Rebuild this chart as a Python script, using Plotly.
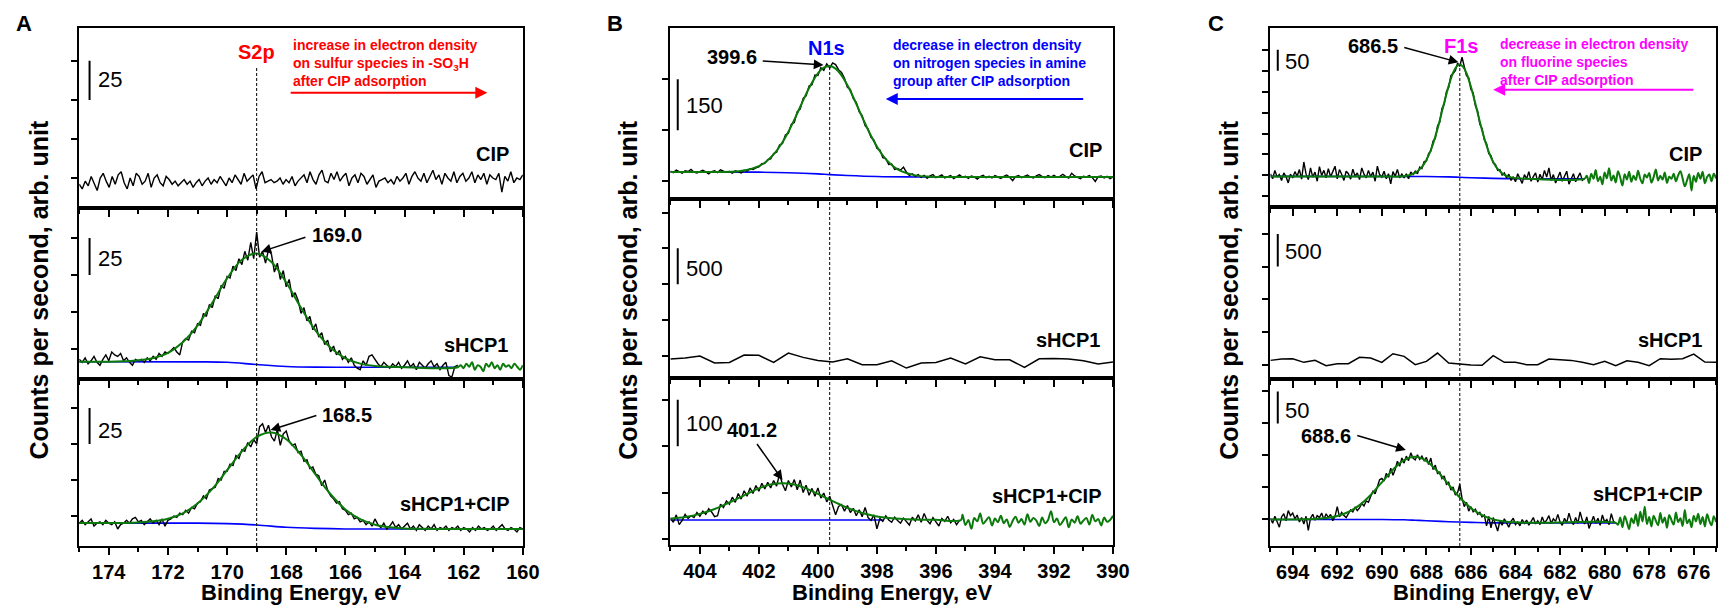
import numpy as np
import plotly.graph_objects as go

W, H = 1734, 610
FONT = "Liberation Sans, Arial, sans-serif"
GREEN = "#0b7a0b"
BLUE = "#0000ff"
BLACK_W = 1.4

# ---------------- Panel A : S2p (x 175 -> 160 eV) ----------------
A_cip = [-4, -7, -2, -5, 1, -3, -8, 0, 3, -2, -6, 1, -4, 2, 4, -3, -7, 0, -5, 3, 1, -4, -2, 3, -6, 0, 2, -3,
         -5, 1, -1, -4, -2, -5, -3, -1, -4, -2, -6, -3, -1, -5, -2, 0, -4, -1, -3, 1, -2, -5, 0, -3, 2, -1,
         -4, 3, -2, 0, 2, -7, 1, 4, -3, -2, -1, -3, -2, 0, -4, -1, -3, 1, -5, -2, 0, 2, -3, 4, -1, -4, 2, 5,
         -2, -3, 3, -1, 4, -2, 1, 3, -5, 0, 2, -3, 3, 1, -4, -1, 2, -6, -2, -1, 0, -3, -1, -4, 1, -2, 0, 3,
         -4, 1, 4, 0, -2, 3, -3, 1, 5, -1, 2, -4, 3, 0, -2, 4, -3, 1, 3, -2, 0, 4, -3, 2, -1, 3, -4, 2, 0,
         -1, 3, -9, 1, -2, 4, -3, 0, -1, 2]
A_shcp1 = [-7, -9, -6, -10, -8, -5, -9, -11, -7, -4, -8, -2, -4, -5, -3, -8, -6, -9, -11, -7,
           -8, -7, -9, -6, -8, -5, -7, -3, -5, -2, -3, -1, 1, -2, -4, 5, 7, 6, 12, 11,
           17, 16, 24, 22, 30, 28, 36, 34, 43, 41, 49, 48, 56, 53, 61, 57, 66, 60, 72, 61,
           79, 62, 66, 58, 67, 64, 52, 58, 47, 53, 42, 47, 35, 38, 33, 24, 28, 19, 22, 13,
           17, 8, 11, 3, 6, -2, 2, -4, -1, -7, -5, -9, -6, -11, -13, -14, -8, -11, -5, -4,
           -7, -10, -12, -9, -11, -13, -10, -12, -9, -13, -11, -8, -12, -10, -14, -9, -11, -13, -10, -8,
           -12, -10, -14, -11, -9, -18, -19, -12, -11]
A_shcp1_tail = [-11, -13, -10, -12, -9, -14, -11, -12, -15, -10, -12, -9, -13, -11, -14, -10, -12, -11,
                -13, -10, -12, -14, -11]
A_shcp1_fit_x = [175, 174, 173.5, 173, 172.5, 172, 171.5, 171, 170.5, 170, 169.5, 169, 168.5, 168, 167.5,
                 167, 166.5, 166, 165.5, 165, 164.5, 164, 162.2]
A_shcp1_fit_y = [-8.6, -8.6, -8.3, -7.7, -6.1, -2.6, 4.6, 15.8, 31.2, 47.7, 60.3, 64.5, 58.8, 44.9, 27.8,
                 12.2, 0.8, -6.3, -9.9, -11.5, -12.1, -12.4, -12.4]
A_shcp1_bg_x = [175, 171, 170, 169, 168, 167, 166, 162.2]
A_shcp1_bg_y = [-8.6, -8.7, -9.0, -10.5, -11.8, -12.3, -12.4, -12.4]
A_mix = [-5, -3, -6, -4, -2, -7, -5, -4, -6, -3, -5, -6, -4, -9, -6, -5, -3, -5, -2, -1,
         -4, -3, -6, -4, -2, -5, -3, -6, -2, -7, -3, -2, 0, -1, 2, 1, 4, 2, 6, 5,
         9, 10, 14, 12, 18, 19, 20, 26, 25, 31, 31, 36, 35, 42, 40, 46, 45, 51, 48, 53,
         50, 62, 64, 58, 63, 55, 52, 60, 49, 57, 59, 52, 49, 50, 44, 45, 38, 39, 33, 34,
         29, 28, 21, 25, 18, 14, 12, 9, 10, 5, 4, 1, 2, -2, -1, -4, -3, -6, -4, -7,
         -2, -6, -8, -5, -9, -7, -4, -8, -6, -9, -7, -5, -9, -7, -10, -6, -8, -10, -7, -9,
         -6, -10, -8, -9, -7, -10, -8, -9, -7, -10, -8, -9, -11, -8, -10, -7, -9, -8, -10, -9,
         -7, -10, -8, -6, -9, -10, -8, -9, -11, -8, -9]
A_mix_fit_x = [175, 174, 173.5, 173, 172.5, 172, 171.5, 171, 170.5, 170, 169.5, 169, 168.5, 168, 167.5,
               167, 166.5, 166, 165.5, 165, 164.5, 164, 163.5, 160]
A_mix_fit_y = [-4.9, -4.9, -4.8, -4.5, -3.7, -1.9, 1.9, 8.7, 18.8, 31.8, 44.9, 54.9, 58.0, 53.3, 42.4,
               28.5, 15.1, 4.6, -2.2, -6.0, -7.8, -8.6, -8.9, -9.0]
A_mix_bg_x = [175, 171, 170, 169, 168, 167, 166, 160]
A_mix_bg_y = [-4.9, -4.9, -5.3, -6.2, -7.8, -8.6, -9.0, -9.0]

# ---------------- Panel B : N1s (x 405 -> 390 eV) ----------------
B_cip = [30, 26, 33, 28, 24, 31, 29, 35, 27, 25, 30, 33, 28, 22, 29, 31, 26, 34, 30, 27,
         29, 24, 31, 27, 25, 33, 30, 37, 35, 40, 43, 52, 53, 64, 66, 82, 86, 107, 111, 136,
         141, 168, 173, 205, 212, 244, 251, 280, 284, 312, 311, 334, 326, 345, 333, 348, 343, 328, 320, 303,
         276, 270, 243, 232, 204, 193, 164, 154, 129, 121, 97, 92, 70, 67, 50, 51, 35, 38, 33, 42,
         27, 18, 22, 15, 20, 12, 18, 9, 16, 20, 11, 15, 19, 10, 14, 17, 8, 13, 19, 12,
         15, 9, 16, 13, 7, 14, 18, 11, 15, 10, 17, 13, 9, 15, 19, 12, 2, 14, 17, 11,
         15, 19, 13, 10, 16, 20, 14, 11, 17, 13, 18, 12, 15, 21, 14, 10, 24, 16, 12, 8,
         15, 13, 17, 11, 0, 14, 16, 10, 15, 8, 13]
B_cip_fit_x = [405, 403.5, 403, 402.5, 402, 401.75, 401.5, 401.25, 401, 400.75, 400.5, 400.25, 400, 399.8,
               399.6, 399.4, 399.2, 398.95, 398.7, 398.45, 398.2, 397.95, 397.7, 397.45, 397.2, 396.7,
               396.2, 395.5, 390]
B_cip_fit_y = [27.5, 27.5, 28.3, 32, 45, 58.6, 79.2, 108.3, 146, 190.2, 237.8, 282.3, 317.4, 333.7,
               338.6, 331.2, 311.4, 274.3, 228, 179.3, 134, 95.3, 65.5, 44.7, 30.9, 17.8, 14, 12.9, 12.9]
B_cip_bg_x = [405, 402, 401, 400, 399.6, 399, 398, 397, 396, 390]
B_cip_bg_y = [27.5, 27.2, 25.5, 22, 20, 17.5, 14.5, 13.2, 12.9, 12.9]
B_shcp1_x = [405, 404.5, 404, 403.5, 403, 402.5, 402, 401.5, 401, 400.5, 400, 399.5, 399, 398.5, 398,
             397.5, 397, 396.5, 396, 395.5, 395, 394.5, 394, 393.5, 393, 392.5, 392, 391.5, 391, 390.5, 390]
B_shcp1_y = [-47, -33, -5, -102, -93, 10, 5, -93, 37, -23, -65, -88, -42, -126, -126, -70, -172, -102,
             -93, -33, -116, -14, -56, -56, -163, -42, -37, -47, -70, -116, -88]
B_mix = [45, 36, 52, 31, 40, 53, 44, 50, 46, 57, 49, 60, 53, 65, 58, 48, 50, 75, 68, 82,
         75, 90, 79, 98, 86, 104, 92, 110, 98, 115, 103, 120, 108, 122, 110, 126, 114, 140, 118, 104,
         126, 112, 128, 106, 127, 100, 116, 94, 109, 92, 110, 88, 99, 80, 92, 71, 52, 70, 74, 60,
         72, 57, 66, 50, 63, 48, 68, 46, 40, 52, 22, 44, 38, 50, 41, 36, 47, 40, 34, 45,
         38, 30, 47, 39, 52, 36, 55, 40, 33, 46, 37, 28, 44, 38, 49, 35, 42, 31, 40]
B_mix_tail = [52, 30, 41, 22, 45, 38, 55, 33, 40, 47, 29, 44, 36, 50, 34, 42, 26, 39, 48, 35, 43, 31, 53,
              37, 45, 40, 28, 46, 34, 41, 60, 36, 44, 30, 38, 47, 25, 42, 35, 49, 33, 40, 45, 31, 52, 38,
              43, 29, 46, 37, 41, 50]
B_mix_fit_x = [405, 404.5, 404, 403.5, 403, 402.5, 402, 401.6, 401.2, 400.8, 400.4, 400, 399.5, 399,
               398.5, 398, 397.5, 397, 396.5, 396, 395.15]
B_mix_fit_y = [43.9, 47.5, 54.1, 64.5, 78.6, 94, 109, 117.3, 120, 117.3, 109, 97, 81.7, 67, 55.8, 48.6,
               44.4, 42.6, 41.5, 41.2, 41]
B_mix_bg_x = [405, 397.8]
B_mix_bg_y = [41, 41]

# ---------------- Panel C : F1s (x 695 -> 675 eV) ----------------
C_cip = [4, -8, 12, -4, 2, -12, 6, -3, -18, 3, -6, 9, -2, 14, -9, 32, 3, -10, 18, -4,
         8, -14, 21, 0, 12, -6, 16, -3, 9, 22, -8, 14, 2, -12, 10, 4, -9, 15, -2, 6,
         -10, 18, 3, -6, 12, -3, 8, -14, 22, 2, -4, 10, -8, 4, -20, 9, -2, 14, -6, 3,
         -6, 4, -8, 8, 2, 10, 4, 20, 16, 33, 34, 52, 58, 82, 88, 118, 127, 160, 170, 200,
         210, 238, 243, 250, 268, 260, 282, 262, 238, 233, 205, 197, 166, 154, 122, 112, 85, 76, 52, 47,
         30, 26, 12, 14, 1, 6, -6, 3, -12, -3, -15, 4, -9, -19, 2, -8, 9, -14, -3, 6,
         -16, 3, -10, 12, -4, 18, -12, 2, -18, -6, 8, -14, -3, 10, -21, -8, 4, -15, -4, 6,
         -12, -8]
C_cip_tail = [-1, -18, 4, -8, 13, -14, -3, -21, 7, -7, 17, -12, 0, -17, 10, -5, -24, 3, -10, 9,
              -15, -1, -11, 11, -8, -19, 2, -5, 6, -17, -4, 14, -12, -1, -10, 7, -18, -3, -8, 4,
              -14, 0, 10, -7, -26, -12, 3, -36, -1, -15, 6, -8, 9, -19, -4, 2, -14, 4, -7]
C_cip_fit_x = [695, 690, 689, 688.5, 688.2, 688.0, 687.8, 687.6, 687.4, 687.2, 687.0, 686.8, 686.65,
               686.5, 686.35, 686.2, 686.0, 685.8, 685.6, 685.4, 685.2, 685.0, 684.8, 684.5, 684.2,
               683.5, 680.9]
C_cip_fit_y = [-2.4, -2.4, -1.9, 6.3, 20.2, 36.7, 60.6, 92.6, 131.3, 173.5, 213.6, 245.2, 259.7, 264.5,
               259.1, 243.8, 211.6, 170.9, 128.1, 88.8, 56.4, 32.2, 15.5, 1.2, -4.7, -7.9, -7.9]
C_cip_bg_x = [695, 688, 687, 686.5, 686, 685, 684, 680.9]
C_cip_bg_y = [-2.4, -2.6, -3.5, -4.5, -5.5, -7.0, -7.9, -7.9]
C_shcp1_x = [695, 694.5, 694, 693.5, 693, 692.5, 692, 691.5, 691, 690.5, 690, 689.5, 689, 688.5, 688,
             687.5, 687, 686.5, 686, 685.5, 685, 684.5, 684, 683.5, 683, 682.5, 682, 681.5, 681, 680.5,
             680, 679.5, 679, 678.5, 678, 677.5, 677, 676.5, 676, 675.5, 675]
C_shcp1_y = [66, 87, 92, 36, 66, -15, 15, 15, 112, 102, 36, 168, 127, 0, 51, 178, 26, 10, -5, -10, 138,
             36, 36, 0, 0, 87, 76, 66, 36, 0, 51, -15, 61, 36, -15, 92, 82, 92, 163, 41, 36]
C_mix = [2, -6, 5, -3, -12, 4, 9, -2, 14, 6, 10, 1, 7, -4, 3, -7, 5, -17, 2, 8,
         -1, 6, 3, 10, 0, 9, 3, 8, -2, 5, 20, 4, 11, 6, 3, 9, 15, 12, 19, 14,
         18, 25, 21, 29, 27, 36, 44, 40, 52, 62, 64, 60, 72, 66, 80, 69, 78, 91, 83, 96,
         88, 99, 92, 104, 96, 93, 101, 94, 99, 92, 97, 86, 96, 78, 85, 72, 74, 64, 68, 55,
         58, 46, 51, 38, 42, 55, 33, 20, 27, 13, 20, 12, 16, 8, 11, 4, 7, -10, 5, -13,
         3, -7, -18, -2, -9, 1, -6, -12, -3, 2, -8, -4, -10, 0, -6, -1, -9, -3, 3, -7,
         -2, -8, 4, -5, -1, 6, -6, 1, -3, 8, -4, -9, 2, -5, 10, -2, -8, 3, -6, 12,
         -1, -7, 4, -14, -3, 5, -6, 2, -9, 7, -4, 0, -8, 9, -3, -6]
C_mix_tail = [-8, 3, -12, 5, -4, -15, 2, -6, 8, -10, 12, -3, 20, -7, 4, -11, 6, -2, -9, 10,
              -5, 3, -13, 7, -1, -8, 11, -4, 2, -10, 15, -6, 0, -12, 6, -3, 9, -7, 4, -11,
              8, -2, -9, 5, -4]
C_mix_fit_x = [695, 693, 692.5, 692, 691.5, 691, 690.5, 690, 689.5, 689, 688.5, 688, 687.5, 687, 686.5,
               686, 685.5, 685, 684.5, 684, 683.5, 683, 679.5]
C_mix_fit_y = [0, 0.8, 2.2, 5.5, 11.7, 22.5, 38.3, 58.1, 77.8, 92.8, 97.8, 91.3, 75.1, 54.6, 34.3, 18,
               6.7, 0.2, -3.1, -4.5, -5, -5.2, -5.3]
C_mix_bg_x = [695, 690, 689, 688.5, 688, 687, 686, 685, 679.5]
C_mix_bg_y = [0, 0, -0.5, -1.2, -2, -3.5, -4.5, -5.3, -5.3]

# ---------------- layout geometry (pixels) ----------------
col_px = [(80, 528), (677, 1124), (1283, 1733)]
row_px = [[(28, 208), (208, 379), (379, 546)],
          [(28, 199), (199, 378), (378, 545)],
          [(28, 207), (207, 379), (379, 546)]]
x_ranges = [[175, 160], [405, 390], [695, 675]]
x_tick0 = [160, 390, 676]
y_ranges = [[[-19.2, 96.0], [-20.3, 95.3], [-20.8, 95.1]],
            [[-51.6, 450.3], [-311, 2189], [-13, 346.9]],
            [[-75.4, 351.8], [-218.7, 2411], [-41.4, 219.4]]]
y_ticks = [[[0, 25, 50, 75]] * 3,
           [[0, 150, 300], [0, 500, 1000, 1500, 2000], [0, 100, 200, 300]],
           [list(range(-50, 301, 50)), [0, 500, 1000, 1500, 2000], [0, 50, 100, 150, 200]]]


def ax_ids(c, r):
    i = c * 3 + r + 1
    s = "" if i == 1 else str(i)
    return "x" + s, "y" + s, i


def px2x(p):
    return p / W


def px2y(p):
    return 1 - p / H


fig = go.Figure()


def line(c, r, x, y, color, width, shape="linear"):
    xa, ya, _ = ax_ids(c, r)
    fig.add_trace(go.Scatter(x=x, y=y, mode="lines", xaxis=xa, yaxis=ya,
                             line=dict(color=color, width=width, shape=shape),
                             hoverinfo="skip", showlegend=False))


def noisy_x(start, end, vals):
    return np.linspace(start, end, len(vals))


# Panel A
line(0, 0, noisy_x(175, 160, A_cip), A_cip, "black", BLACK_W)
line(0, 1, A_shcp1_bg_x, A_shcp1_bg_y, BLUE, 1.6, "spline")
line(0, 1, noisy_x(175, 162.2, A_shcp1), A_shcp1, "black", BLACK_W)
line(0, 1, list(A_shcp1_fit_x) + list(noisy_x(162.1, 160, A_shcp1_tail)),
     list(A_shcp1_fit_y) + list(A_shcp1_tail), GREEN, 2, "spline")
line(0, 2, A_mix_bg_x, A_mix_bg_y, BLUE, 1.6, "spline")
line(0, 2, noisy_x(175, 160, A_mix), A_mix, "black", BLACK_W)
line(0, 2, A_mix_fit_x, A_mix_fit_y, GREEN, 2, "spline")

# Panel B
line(1, 0, B_cip_bg_x, B_cip_bg_y, BLUE, 1.6, "spline")
line(1, 0, noisy_x(405, 390, B_cip), B_cip, "black", BLACK_W)
line(1, 0, B_cip_fit_x, B_cip_fit_y, GREEN, 2, "spline")
line(1, 1, B_shcp1_x, B_shcp1_y, "black", 1.5)
line(1, 2, B_mix_bg_x, B_mix_bg_y, BLUE, 1.6)
line(1, 2, noisy_x(405, 395.2, B_mix), B_mix, "black", BLACK_W)
line(1, 2, list(B_mix_fit_x) + list(noisy_x(395.1, 390, B_mix_tail)),
     list(B_mix_fit_y) + list(B_mix_tail), GREEN, 2, "spline")

# Panel C
line(2, 0, C_cip_bg_x, C_cip_bg_y, BLUE, 1.6, "spline")
line(2, 0, noisy_x(695, 680.9, C_cip), C_cip, "black", BLACK_W)
line(2, 0, list(C_cip_fit_x) + list(noisy_x(680.8, 675, C_cip_tail)),
     list(C_cip_fit_y) + list(C_cip_tail), GREEN, 2, "spline")
line(2, 1, C_shcp1_x, C_shcp1_y, "black", 1.5)
line(2, 2, C_mix_bg_x, C_mix_bg_y, BLUE, 1.6, "spline")
line(2, 2, noisy_x(695, 679.5, C_mix), C_mix, "black", BLACK_W)
line(2, 2, list(C_mix_fit_x) + list(noisy_x(679.4, 675, C_mix_tail)),
     list(C_mix_fit_y) + list(C_mix_tail), GREEN, 2, "spline")

# ---------------- axes ----------------
layout = {}
for c in range(3):
    for r in range(3):
        xa, ya, i = ax_ids(c, r)
        kx = "xaxis" if i == 1 else f"xaxis{i}"
        ky = "yaxis" if i == 1 else f"yaxis{i}"
        x0, x1 = col_px[c]
        yt, yb = row_px[c][r]
        layout[kx] = dict(domain=[px2x(x0), px2x(x1)], anchor=ya, range=x_ranges[c],
                          showline=True, mirror=True, linecolor="black", linewidth=2,
                          ticks="outside", ticklen=7, tickwidth=2, tickcolor="black",
                          tick0=x_tick0[c], dtick=2,
                          minor=dict(dtick=1, tick0=x_tick0[c], ticks="outside", ticklen=4,
                                     tickwidth=2, tickcolor="black", showgrid=False),
                          showticklabels=(r == 2), showgrid=False, zeroline=False,
                          tickfont=dict(family=FONT, size=20, color="black", weight="bold"))
        layout[ky] = dict(domain=[px2y(yb), px2y(yt)], anchor=xa, range=y_ranges[c][r],
                          showline=True, mirror=True, linecolor="black", linewidth=2,
                          ticks="outside", ticklen=6, tickwidth=2, tickcolor="black",
                          tickmode="array", tickvals=y_ticks[c][r], showticklabels=False,
                          showgrid=False, zeroline=False)

fig.update_layout(**layout)

shapes = []
annotations = []


def ann(c, r, x, y, text, size=20, color="black", xanchor="center", bold=True, **kw):
    xa, ya, _ = ax_ids(c, r)
    t = f"<b>{text}</b>" if bold else text
    annotations.append(dict(x=x, y=y, xref=xa, yref=ya, text=t, showarrow=False,
                            xanchor=xanchor, yanchor="middle",
                            font=dict(family=FONT, size=size, color=color), **kw))


def arrow(c, r, hx, hy, tx, ty, color="black", width=1.5, size=1.3):
    xa, ya, _ = ax_ids(c, r)
    annotations.append(dict(x=hx, y=hy, ax=tx, ay=ty, xref=xa, yref=ya, axref=xa, ayref=ya,
                            text="", showarrow=True, arrowhead=2, arrowsize=size,
                            arrowwidth=width, arrowcolor=color))


def scalebar(c, r, x, y0, y1, label, lx, ly):
    xa, ya, _ = ax_ids(c, r)
    shapes.append(dict(type="line", xref=xa, yref=ya, x0=x, x1=x, y0=y0, y1=y1,
                       line=dict(color="black", width=2)))
    ann(c, r, lx, ly, label, size=22, xanchor="left", bold=False)


# scale bars
scalebar(0, 0, 174.65, 50, 75, "25", 174.42, 62.8)
scalebar(0, 1, 174.65, 50, 75, "25", 174.42, 61.5)
scalebar(0, 2, 174.65, 50, 75, "25", 174.42, 59.7)
scalebar(1, 0, 404.75, 150, 300, "150", 404.53, 222)
scalebar(1, 1, 404.75, 1000, 1500, "500", 404.55, 1215)
scalebar(1, 2, 404.75, 200, 300, "100", 404.55, 248)
scalebar(2, 0, 694.67, 250, 300, "50", 694.42, 272)
scalebar(2, 1, 694.67, 1500, 2000, "500", 694.42, 1733)
scalebar(2, 2, 694.67, 150, 200, "50", 694.42, 170)

# dashed guide lines
for c, xv, ytop, ybot in [(0, 169.0, 66, 546), (1, 399.6, 65, 545), (2, 686.5, 65, 546)]:
    xa, _, _ = ax_ids(c, 0)
    shapes.append(dict(type="line", xref=xa, yref="paper", x0=xv, x1=xv,
                       y0=px2y(ybot), y1=px2y(ytop),
                       line=dict(color="black", width=1, dash="3px,2px")))

# sample labels
ann(0, 0, 160.4, 15.4, "CIP", xanchor="right")
ann(0, 1, 160.44, 2.7, "sHCP1", xanchor="right")
ann(0, 2, 160.38, 8.3, "sHCP1+CIP", xanchor="right")
ann(1, 0, 390.3, 92.9, "CIP", xanchor="right")
ann(1, 1, 390.37, 223, "sHCP1", xanchor="right")
ann(1, 2, 390.3, 92.9, "sHCP1+CIP", xanchor="right")
ann(2, 0, 675.53, 51.8, "CIP", xanchor="right")
ann(2, 1, 675.53, 371.6, "sHCP1", xanchor="right")
ann(2, 2, 675.5, 39.7, "sHCP1+CIP", xanchor="right")

# core-level labels and mechanism notes
ann(0, 0, 169.0, 80.8, "S2p", color="#ff0000")
ann(0, 0, 167.85, 73.3, "increase in electron density<br>on sulfur species in -SO<sub>3</sub>H<br>after CIP adsorption",
    size=14, color="#ff0000", xanchor="left", align="left")
arrow(0, 0, 161.2, 54.5, 167.9, 54.5, color="#ff0000", width=2, size=1.2)

ann(1, 0, 399.7, 392, "N1s", color=BLUE)
ann(1, 0, 397.53, 347.8, "decrease in electron density<br>on nitrogen species in amine<br>group after CIP adsorption",
    size=14, color=BLUE, xanchor="left", align="left")
arrow(1, 0, 397.7, 242, 390.96, 242, color=BLUE, width=2, size=1.2)

ann(2, 0, 686.43, 309.5, "F1s", color="#ff00ff")
ann(2, 0, 684.8, 271.4, "decrease in electron density<br>on fluorine species<br>after CIP adsorption",
    size=14, color="#ff00ff", xanchor="left", align="left")
arrow(2, 0, 685.0, 204.5, 675.95, 204.5, color="#ff00ff", width=2, size=1.2)

# peak positions
ann(0, 1, 167.2, 77, "169.0", xanchor="left")
arrow(0, 1, 168.84, 65.8, 167.3, 75.9)
ann(0, 2, 166.86, 70.1, "168.5", xanchor="left")
arrow(0, 2, 168.53, 59.7, 166.93, 70.1)
ann(1, 0, 401.98, 365, "399.6", xanchor="right")
arrow(1, 0, 399.81, 342, 401.92, 353.6)
ann(1, 2, 402.22, 234, "401.2")
arrow(1, 2, 401.2, 127, 402.1, 208)
ann(2, 0, 689.18, 309.5, "686.5", xanchor="right")
arrow(2, 0, 686.56, 270, 689.06, 306)
ann(2, 2, 691.28, 130.6, "688.6", xanchor="right")
arrow(2, 2, 688.92, 108.6, 691.17, 132)

# panel letters, axis titles
for letter, xp in [("A", 24), ("B", 621), ("C", 1228)]:
    annotations.append(dict(x=px2x(xp), y=px2y(24), xref="paper", yref="paper", text=f"<b>{letter}</b>",
                            showarrow=False, xanchor="center", yanchor="middle",
                            font=dict(family=FONT, size=22, color="black")))
for c, yx in zip(range(3), [39, 634, 1241]):
    x0, x1 = col_px[c]
    annotations.append(dict(x=px2x((x0 + x1) / 2), y=px2y(592), xref="paper", yref="paper",
                            text="<b>Binding Energy, eV</b>", showarrow=False,
                            xanchor="center", yanchor="middle",
                            font=dict(family=FONT, size=22, color="black")))
    annotations.append(dict(x=px2x(yx), y=px2y(290), xref="paper", yref="paper",
                            text="<b>Counts per second, arb. unit</b>", showarrow=False,
                            textangle=-90, xanchor="center", yanchor="middle",
                            font=dict(family=FONT, size=25, color="black")))

fig.update_layout(width=W, height=H, margin=dict(l=0, r=0, t=0, b=0),
                  paper_bgcolor="white", plot_bgcolor="white", showlegend=False,
                  shapes=shapes, annotations=annotations)

fig.write_html("out.html")
